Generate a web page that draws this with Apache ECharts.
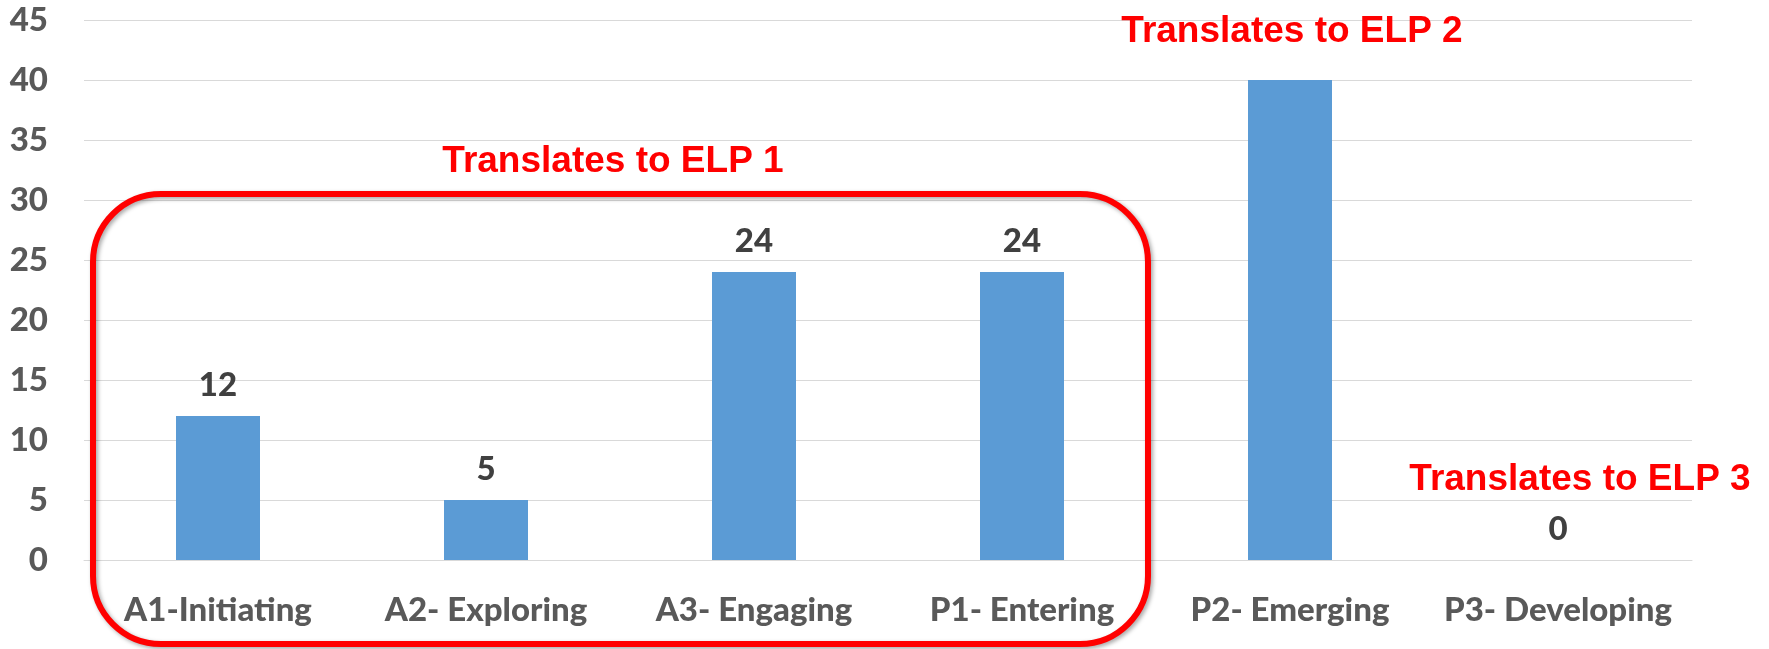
<!DOCTYPE html>
<html>
<head>
<meta charset="utf-8">
<script src="https://cdn.jsdelivr.net/npm/echarts@6/dist/echarts.min.js"></script>
<style>
html,body{margin:0;padding:0;background:#fff;}
#c{width:1769px;height:649px;}
</style>
</head>
<body>
<div id="c"></div>
<script>
const categories = ['A1-Initiating', 'A2- Exploring', 'A3- Engaging', 'P1- Entering', 'P2- Emerging', 'P3- Developing'];
const values = [12, 5, 24, 24, 40, 0];
const showValueLabel = [true, true, true, true, false, true];
const yTicks = { min: 0, max: 45, interval: 5 };
const notes = ['Translates to ELP 1', 'Translates to ELP 2', 'Translates to ELP 3'];

const labelFont = 'Lato, "Open Sans", sans-serif';
const noteFont = '"Liberation Sans", Arial, sans-serif';
const labelWeight = 900;

const chart = echarts.init(document.getElementById('c'), null, { renderer: 'canvas' });

const option = {
  animation: false,
  backgroundColor: '#ffffff',
  grid: { left: 84, right: 77, top: 20, bottom: 89, containLabel: false },
  xAxis: {
    type: 'category',
    data: categories,
    axisLine: { show: true, lineStyle: { color: '#D9D9D9', width: 1 } },
    axisTick: { show: false },
    axisLabel: {
      color: '#595959', fontFamily: labelFont, fontWeight: labelWeight, fontSize: 33,
      margin: 34, interval: 0
    }
  },
  yAxis: {
    type: 'value',
    min: yTicks.min, max: yTicks.max, interval: yTicks.interval,
    axisLine: { show: false },
    axisTick: { show: false },
    splitLine: { lineStyle: { color: '#D9D9D9', width: 1 } },
    axisLabel: {
      color: '#595959', fontFamily: labelFont, fontWeight: labelWeight, fontSize: 33,
      margin: 36
    }
  },
  series: [{
    type: 'bar',
    barWidth: 84,
    data: values.map((v, i) => ({
      value: v,
      label: { show: showValueLabel[i] }
    })),
    itemStyle: { color: '#5B9BD5' },
    label: {
      position: 'top',
      distance: 14,
      color: '#404040', fontFamily: labelFont, fontWeight: labelWeight, fontSize: 33
    }
  }]
};
chart.setOption(option);

function px(cat, val) { return chart.convertToPixel({ gridIndex: 0 }, [cat, val]); }
const band = px(1, 0)[0] - px(0, 0)[0];

const boxLeft = px(0, 0)[0] - band / 2 + 9;
const boxRight = px(3, 0)[0] + band / 2 - 8;
const boxTop = px(0, 30.5)[1];
const boxBottom = 644;

const pNote1 = px(1, 33.2); pNote1[0] = (px(1, 0)[0] + px(2, 0)[0]) / 2 - 7;
const pNote2 = px(4, 44); pNote2[0] += 2;
const pNote3 = px(5, 6.7); pNote3[0] += 22;

function noteText(p, t) {
  return {
    type: 'text', z: 100,
    x: p[0], y: p[1],
    style: {
      text: t, fill: '#FF0000', font: 'bold 37px ' + noteFont,
      textAlign: 'center', textVerticalAlign: 'middle'
    }
  };
}

chart.setOption({
  graphic: [
    {
      type: 'rect', z: 90,
      shape: { x: boxLeft, y: boxTop, width: boxRight - boxLeft, height: boxBottom - boxTop, r: 68 },
      style: {
        fill: 'none', stroke: '#FF0000', lineWidth: 6,
        shadowColor: 'rgba(0,0,0,0.35)', shadowBlur: 4, shadowOffsetX: 2, shadowOffsetY: 2
      }
    },
    noteText(pNote1, notes[0]),
    noteText(pNote2, notes[1]),
    noteText(pNote3, notes[2])
  ]
});
</script>
</body>
</html>
